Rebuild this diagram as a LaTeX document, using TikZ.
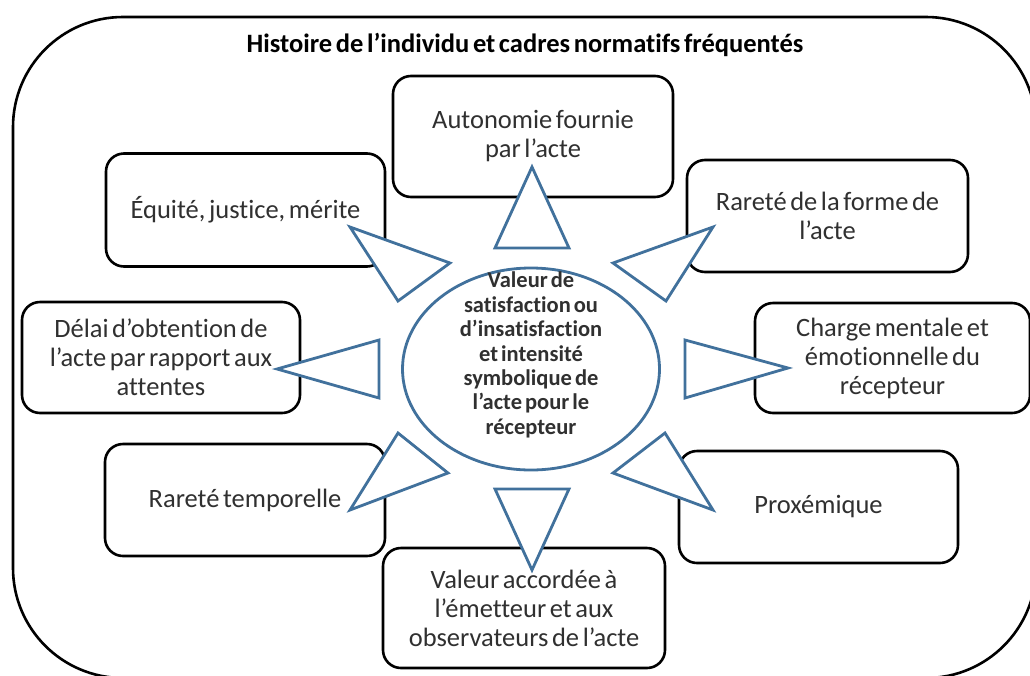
\documentclass[tikz,border=0pt]{standalone}
\usepackage{fontspec}
\setmainfont{Carlito}[Ligatures={NoCommon,NoContextual}, WordSpace={0.6}]
\usetikzlibrary{shapes.geometric}
\definecolor{triblue}{HTML}{41719C}
\definecolor{txt}{HTML}{303030}
\begin{document}
\begin{tikzpicture}[x=1pt,y=-1pt,
  box/.style={draw=black, line width=2.6pt, rounded corners=18pt, fill=white,
    align=center, text=txt, font=\fontsize{26.5}{29}\selectfont, inner sep=0pt},
  tri/.style={draw=triblue, line width=2.8pt, fill=white, line join=miter},
  frame/.style={draw=black, line width=2.6pt, rounded corners=110pt},
]
\useasboundingbox (0,0) rectangle (1030,675);
\draw[frame] (13,17) rectangle (1036,678);
\node[font=\bfseries\fontsize{26.5}{30}\selectfont, text=black] (title) at (525,45)
  {Histoire de l’individu et cadres normatifs fréquentés};

\node[box, minimum width=280pt, minimum height=121pt] (auto) at (533,136.5)
  {Autonomie fournie\\par l’acte};
\node[box, minimum width=281pt, minimum height=112pt] (forme) at (827.5,216)
  {Rareté de la forme de\\l’acte};
\node[box, minimum width=275pt, minimum height=110pt] (charge) at (892.5,358)
  {Charge mentale et\\émotionnelle du\\récepteur};
\node[box, minimum width=279pt, minimum height=112pt] (prox) at (818.5,507)
  {Proxémique};
\node[box, minimum width=282pt, minimum height=120pt] (valeur) at (524,608)
  {Valeur accordée à\\l’émetteur et aux\\observateurs de l’acte};
\node[box, minimum width=280pt, minimum height=112pt] (temp) at (245,500)
  {Rareté temporelle};
\node[box, minimum width=278pt, minimum height=111pt] (delai) at (161,357.5)
  {Délai d’obtention de\\l’acte par rapport aux\\attentes};
\node[box, minimum width=279pt, minimum height=113pt] (equite) at (245.5,210)
  {Équité, justice, mérite};

\node[ellipse, draw=triblue, line width=2.8pt, fill=white,
  minimum width=257pt, minimum height=202pt, inner sep=0pt] (ctr) at (531,369) {};
\node[align=center, font=\bfseries\fontsize{22.5}{24.4}\selectfont, text=txt] (ctrtext) at (531,355)
  {Valeur de\\satisfaction ou\\d’insatisfaction\\et intensité\\symbolique de\\l’acte pour le\\récepteur};

\draw[tri] (532,167) -- (495,248) -- (569,248) -- cycle;
\draw[tri] (713,227) -- (613,263) -- (666,301) -- cycle;
\draw[tri] (788,368) -- (685,340) -- (685,398) -- cycle;
\draw[tri] (713,510) -- (665,433) -- (613,473) -- cycle;
\draw[tri] (532,570) -- (495,489) -- (569,489) -- cycle;
\draw[tri] (350,510) -- (398,433) -- (448,473) -- cycle;
\draw[tri] (277,369) -- (379,340) -- (379,398) -- cycle;
\draw[tri] (350,227) -- (450,263) -- (398,301) -- cycle;
\end{tikzpicture}
\end{document}
